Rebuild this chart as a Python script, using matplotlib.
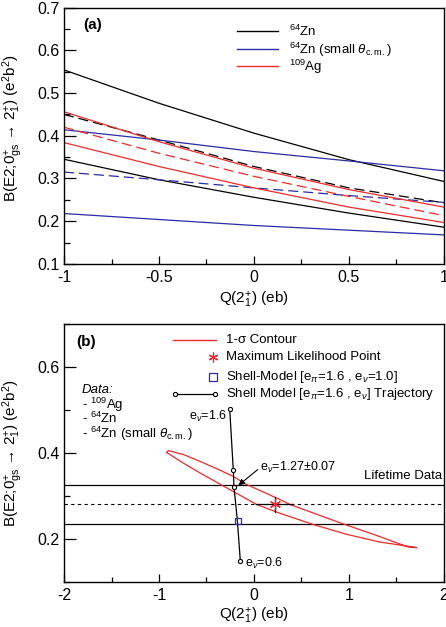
import matplotlib
matplotlib.use("Agg")
import matplotlib.pyplot as plt
from matplotlib.ticker import MultipleLocator

plt.rcParams['font.family'] = ['Liberation Sans', 'DejaVu Sans']
plt.rcParams['mathtext.fontset'] = 'custom'
plt.rcParams['mathtext.rm'] = 'Liberation Sans'
plt.rcParams['mathtext.it'] = 'Liberation Sans:italic'
plt.rcParams['mathtext.bf'] = 'Liberation Sans:bold'

# ---- panel (a): B(E2) vs Q curves
q_a = [-1.0, -0.5, 0.0, 0.5, 1.0]
zn_hi = [0.554, 0.476, 0.406, 0.344, 0.293]
zn_mid = [0.450, 0.390, 0.328, 0.278, 0.243]
zn_lo = [0.345, 0.297, 0.256, 0.219, 0.186]
zns_hi = [0.414, 0.390, 0.363, 0.341, 0.318]
zns_mid = [0.315, 0.297, 0.278, 0.260, 0.244]
zns_lo = [0.218, 0.204, 0.190, 0.179, 0.168]
ag_hi = [0.456, 0.386, 0.324, 0.274, 0.233]
ag_mid = [0.420, 0.359, 0.305, 0.258, 0.213]
ag_lo = [0.384, 0.328, 0.278, 0.233, 0.197]

# ---- panel (b)
contour_q = [-0.919, -0.90, -0.744, -0.568, -0.393, -0.218, -0.095, 0.274, 0.379,
             0.905, 1.326, 1.624, 1.713, 1.607, 1.326, 0.976, 0.624, 0.274,
             0.028, -0.35, -0.568, -0.744, -0.90, -0.919]
contour_b = [0.402, 0.406, 0.397, 0.381, 0.364, 0.346, 0.329, 0.292, 0.2805,
             0.238, 0.2056, 0.1814, 0.180, 0.1838, 0.193, 0.211, 0.234, 0.260,
             0.2805, 0.327, 0.354, 0.377, 0.399, 0.402]
ml_q, ml_b = 0.221, 0.281
ml_q_err = [0.02, 0.41]
ml_b_err = [0.264, 0.298]
traj_q = [-0.256, -0.218, -0.211, -0.175, -0.144]
traj_b = [0.504, 0.361, 0.322, 0.243, 0.149]
traj_marked = [0, 1, 2, 4]
sm_q, sm_b = -0.172, 0.243
life_hi, life_mid, life_lo = 0.327, 0.281, 0.236

BLUE = '#2b2ba6'
RED = '#ee2a2a'

fig = plt.figure(figsize=(4.46, 6.27), dpi=100)
ax1 = fig.add_axes([0.1435, 0.579, 0.852, 0.409])
ax2 = fig.add_axes([0.1435, 0.0718, 0.852, 0.4107])


def style_axes(ax):
    for s in ax.spines.values():
        s.set_linewidth(1.0)
    ax.tick_params(which='both', direction='in', top=False, right=False,
                   labelsize=11.5, width=0.9)
    ax.tick_params(axis='y', which='major', length=8.5, pad=3)
    ax.tick_params(axis='y', which='minor', length=4.5)
    ax.tick_params(axis='x', which='major', length=5.5, pad=4)
    ax.tick_params(axis='x', which='minor', length=3.5)


ylab = r'B(E2;0$^{+}_{\rm gs}$ → 2$^{+}_{1}$) (e$^{2}$b$^{2}$)'
xlab = r'Q(2$^{+}_{1}$) (eb)'

# panel (a)
lw = 0.9
ax1.plot(q_a, zn_hi, color='black', lw=lw)
ax1.plot(q_a, zn_mid, color='black', lw=lw, ls=(0, (8, 4)))
ax1.plot(q_a, zn_lo, color='black', lw=lw)
ax1.plot(q_a, zns_hi, color=BLUE, lw=lw)
ax1.plot(q_a, zns_mid, color=BLUE, lw=lw, ls=(0, (8, 4)))
ax1.plot(q_a, zns_lo, color=BLUE, lw=lw)
ax1.plot(q_a, ag_hi, color=RED, lw=lw)
ax1.plot(q_a, ag_mid, color=RED, lw=lw, ls=(0, (8, 4)))
ax1.plot(q_a, ag_lo, color=RED, lw=lw)
ax1.set_xlim(-1, 1)
ax1.set_ylim(0.1, 0.7)
ax1.xaxis.set_minor_locator(MultipleLocator(0.25))
ax1.yaxis.set_minor_locator(MultipleLocator(0.05))
style_axes(ax1)
ax1.set_xticks([-1, -0.5, 0, 0.5, 1])
ax1.set_xticklabels(['-1', '-0.5', '0', '0.5', '1'])
ax1.set_yticks([0.1, 0.2, 0.3, 0.4, 0.5, 0.6, 0.7])
ax1.set_yticklabels(['0.1', '0.2', '0.3', '0.4', '0.5', '0.6', '0.7'])
ax1.set_ylabel(ylab, fontsize=11)
ax1.yaxis.set_label_coords(-0.103, 0.53)
ax1.set_xlabel(xlab, fontsize=11)
ax1.xaxis.set_label_coords(0.5, -0.1)
ax1.text(0.05, 0.932, '(a)', transform=ax1.transAxes, fontsize=11,
         fontweight='bold', va='center')

leg_a = [(r'$^{64}$Zn', 'black', 0.910),
         (r'$^{64}$Zn (small $\theta_{\rm c.m.}$)', BLUE, 0.840),
         (r'$^{109}$Ag', RED, 0.772)]
for lab, c, yy in leg_a:
    ax1.plot([0.455, 0.563], [yy, yy], transform=ax1.transAxes, color=c, lw=1)
    ax1.text(0.592, yy - 0.005, lab, transform=ax1.transAxes, fontsize=9.5,
             va='center')

# panel (b)
ax2.axhline(life_hi, color='black', lw=0.9)
ax2.axhline(life_mid, color='black', lw=0.8, ls=(0, (3, 3)))
ax2.axhline(life_lo, color='black', lw=0.9)
ax2.plot(contour_q, contour_b, color=RED, lw=0.9)
ax2.plot(ml_q_err, [ml_b, ml_b], color='black', lw=0.9)
ax2.plot([ml_q, ml_q], ml_b_err, color='black', lw=0.9)
ax2.plot(ml_q, ml_b, marker=(6, 2, 0), color=RED, ms=8, mew=0.9, ls='none')
ax2.plot(traj_q, traj_b, color='black', lw=0.9)
ax2.plot([traj_q[i] for i in traj_marked], [traj_b[i] for i in traj_marked],
         'o', ms=3, mfc='white', mec='black', mew=0.8)
ax2.plot(sm_q, sm_b, 's', ms=5, mfc='none', mec=BLUE, mew=0.9)
ax2.set_xlim(-2, 2)
ax2.set_ylim(0.1, 0.7)
ax2.xaxis.set_minor_locator(MultipleLocator(0.5))
ax2.yaxis.set_minor_locator(MultipleLocator(0.1))
style_axes(ax2)
ax2.set_xticks([-2, -1, 0, 1, 2])
ax2.set_xticklabels(['-2', '-1', '0', '1', '2'])
ax2.set_yticks([0.2, 0.4, 0.6])
ax2.set_yticklabels(['0.2', '0.4', '0.6'])
ax2.set_ylabel(ylab, fontsize=11)
ax2.yaxis.set_label_coords(-0.103, 0.5)
ax2.set_xlabel(xlab, fontsize=11)
ax2.xaxis.set_label_coords(0.5, -0.095)
ax2.text(0.032, 0.932, '(b)', transform=ax2.transAxes, fontsize=11,
         fontweight='bold', va='center')

ax2.text(-0.288, 0.485, r'e$_{\nu}$=1.6', fontsize=9, ha='right', va='center')
ax2.text(-0.095, 0.143, r'e$_{\nu}$=0.6', fontsize=9, ha='left', va='center')
ax2.text(0.06, 0.366, r'e$_{\nu}$=1.27±0.07', fontsize=9, ha='left', va='center')
ax2.annotate('', xy=(-0.165, 0.325), xytext=(0.04, 0.362),
             arrowprops=dict(arrowstyle='-|>', color='black', lw=0.8,
                             mutation_scale=9, shrinkA=0, shrinkB=0))
ax2.text(1.98, 0.333, 'Lifetime Data', fontsize=9.5, ha='right', va='bottom')

# legend (b)
t = ax2.transAxes
ax2.plot([0.287, 0.40], [0.940, 0.940], transform=t, color=RED, lw=1)
ax2.plot([0.392], [0.873], transform=t, marker=(6, 2, 0), color=RED, ms=7,
         mew=0.9, ls='none')
ax2.plot([0.392], [0.795], transform=t, marker='s', ms=5.5, mfc='none',
         mec=BLUE, mew=0.9, ls='none')
ax2.plot([0.292, 0.397], [0.729, 0.729], transform=t, color='black', lw=0.9,
         marker='o', ms=3, mfc='white', mec='black', mew=0.8)
leg_b = ['1-σ Contour', 'Maximum Likelihood Point',
         r'Shell-Model [e$_{\pi}$=1.6 , e$_{\nu}$=1.0]',
         r'Shell Model [e$_{\pi}$=1.6 , e$_{\nu}$] Trajectory']
for lab, yy in zip(leg_b, [0.940, 0.873, 0.795, 0.729]):
    ax2.text(0.426, yy, lab, transform=t, fontsize=9.5, va='center')

ax2.text(0.047, 0.745, 'Data:', transform=t, fontsize=9.5, style='italic',
         va='center')
data_lines = [r'- $^{109}$Ag', r'- $^{64}$Zn', r'- $^{64}$Zn (small $\theta_{\rm c.m.}$)']
for lab, yy in zip(data_lines, [0.686, 0.634, 0.576]):
    ax2.text(0.047, yy, lab, transform=t, fontsize=9.5, va='center')

fig.savefig('out.png', dpi=100)
